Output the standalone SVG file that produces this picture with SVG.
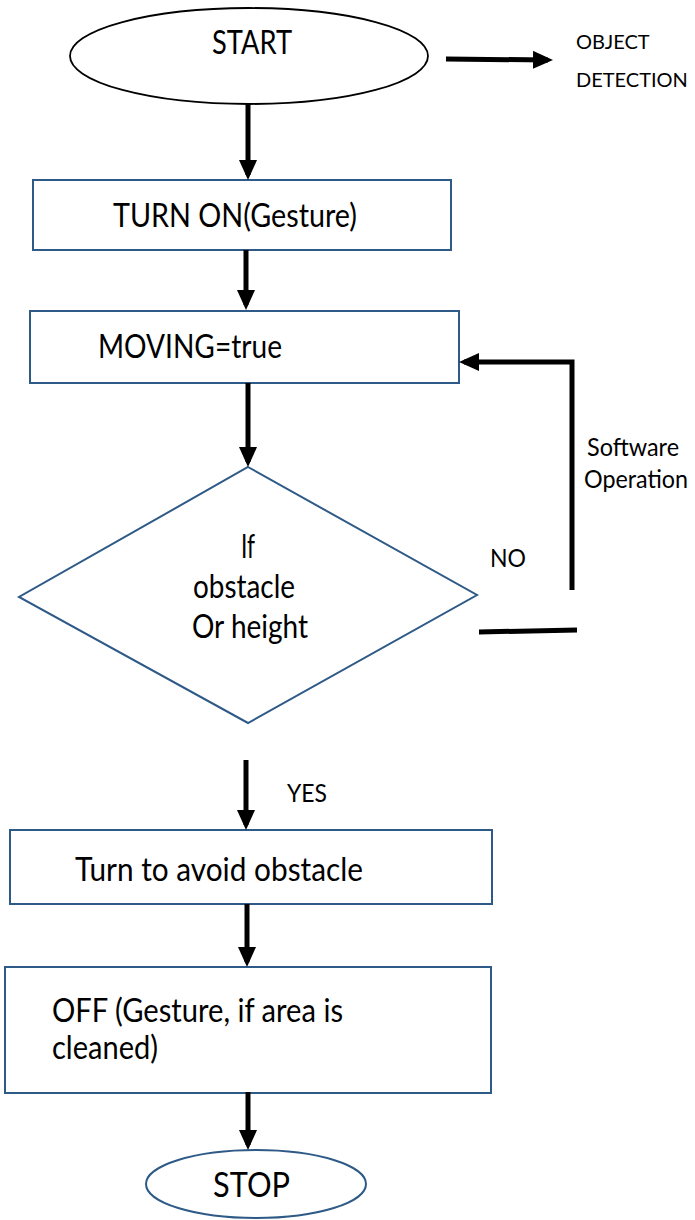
<svg xmlns="http://www.w3.org/2000/svg" width="695" height="1220" viewBox="0 0 695 1220">
<style>
text{font-family:Lato,"Liberation Sans",sans-serif;fill:#000}
.box{fill:#fff;stroke:#2e5a87;stroke-width:2}
.t{font-size:32px}
.s{font-size:25px}
.o{font-size:20px}
.c{stroke:#000;stroke-width:5;fill:none}
</style>
<defs>
<marker id="ah" markerWidth="4" markerHeight="3.6" refX="3" refY="1.8" orient="auto" markerUnits="strokeWidth">
<path d="M0,0 L4,1.8 L0,3.6 z" fill="#000"/>
</marker>
</defs>
<rect width="695" height="1220" fill="#fff"/>
<g id="start">
<ellipse cx="249" cy="56" rx="179" ry="48" fill="#fff" stroke="#000" stroke-width="1.8"/>
<text class="t" x="212" y="54" textLength="80" lengthAdjust="spacingAndGlyphs">START</text>
</g>
<g id="objdet">
<text class="o" x="576" y="49">OBJECT</text>
<text class="o" x="576" y="87">DETECTION</text>
</g>
<g id="turnon">
<rect class="box" x="33" y="180" width="418" height="70"/>
<text class="t" x="113" y="227" textLength="244" lengthAdjust="spacingAndGlyphs">TURN ON(Gesture)</text>
</g>
<g id="moving">
<rect class="box" x="30" y="311" width="429" height="72"/>
<text class="t" x="98" y="358" textLength="184" lengthAdjust="spacingAndGlyphs">MOVING=true</text>
</g>
<g id="decision">
<polygon class="box" points="248,467 477,595 248,723 19,597"/>
<text class="t" x="241" y="558" textLength="14" lengthAdjust="spacingAndGlyphs">If</text>
<text class="t" x="193" y="598" textLength="102" lengthAdjust="spacingAndGlyphs">obstacle</text>
<text class="t" x="192" y="638" textLength="116" lengthAdjust="spacingAndGlyphs">Or height</text>
</g>
<g id="avoid">
<rect class="box" x="10" y="830" width="482" height="74"/>
<text class="t" x="75" y="881" textLength="288" lengthAdjust="spacingAndGlyphs">Turn to avoid obstacle</text>
</g>
<g id="off">
<rect class="box" x="5" y="967" width="486" height="126"/>
<text class="t" x="52" y="1022" textLength="291" lengthAdjust="spacingAndGlyphs">OFF (Gesture, if area is</text>
<text class="t" x="52" y="1059" textLength="106" lengthAdjust="spacingAndGlyphs">cleaned)</text>
</g>
<g id="stop">
<ellipse class="box" cx="256" cy="1184" rx="110" ry="34"/>
<text x="213" y="1197" font-size="35" textLength="77" lengthAdjust="spacingAndGlyphs">STOP</text>
</g>
<g id="connectors">
<line class="c" x1="446" y1="59" x2="548" y2="60" marker-end="url(#ah)"/>
<line class="c" x1="248" y1="104" x2="248" y2="175" marker-end="url(#ah)"/>
<line class="c" x1="246" y1="250" x2="246" y2="305" marker-end="url(#ah)"/>
<line class="c" x1="248" y1="383" x2="248" y2="462" marker-end="url(#ah)"/>
<polyline class="c" points="572,590 572,362 464,362" marker-end="url(#ah)"/>
<line class="c" x1="479" y1="632" x2="577" y2="630"/>
<line class="c" x1="246" y1="760" x2="246" y2="825" marker-end="url(#ah)"/>
<line class="c" x1="247" y1="904" x2="247" y2="962" marker-end="url(#ah)"/>
<line class="c" x1="248" y1="1092" x2="248" y2="1145" marker-end="url(#ah)"/>
<text class="s" x="587" y="456" textLength="92" lengthAdjust="spacingAndGlyphs">Software</text>
<text class="s" x="584" y="488" textLength="104" lengthAdjust="spacingAndGlyphs">Operation</text>
<text class="s" x="490" y="567" textLength="36" lengthAdjust="spacingAndGlyphs">NO</text>
<text class="s" x="287" y="802" textLength="40" lengthAdjust="spacingAndGlyphs">YES</text>
</g>
</svg>
